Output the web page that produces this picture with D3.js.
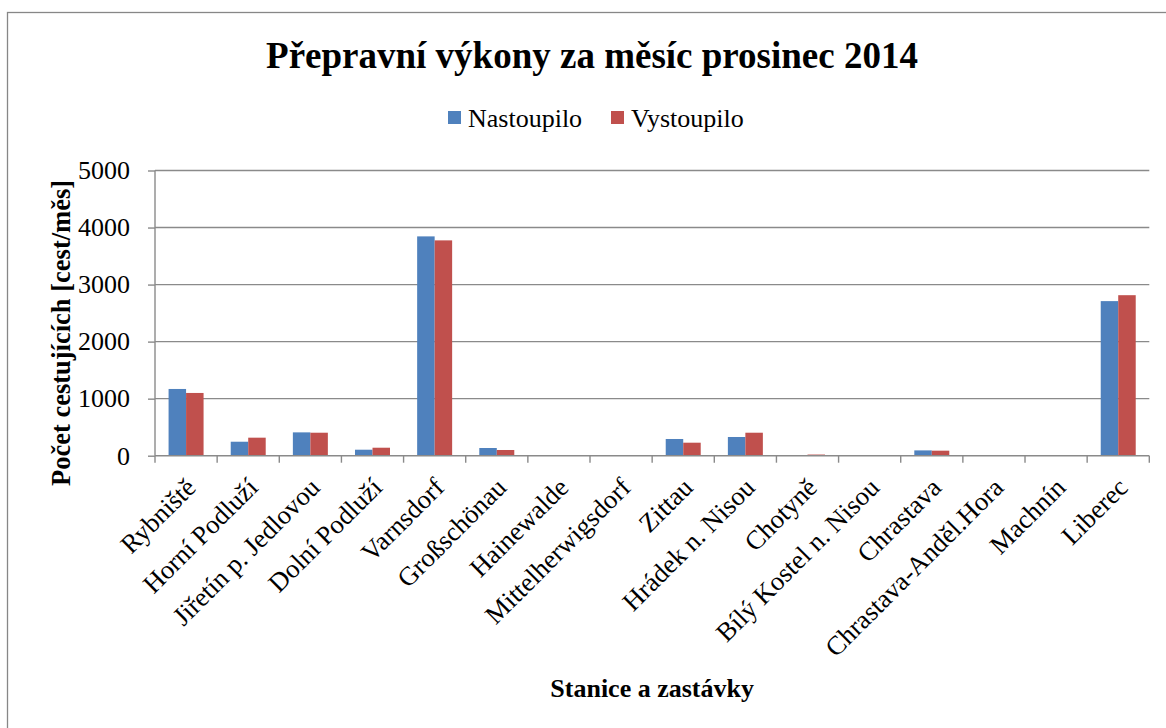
<!DOCTYPE html>
<html>
<head>
<meta charset="utf-8">
<script src="https://cdn.jsdelivr.net/npm/d3@7"></script>
<style>
  body { margin: 0; background: #fff; }
  text { font-family: "Liberation Serif", "Times New Roman", serif; }
</style>
</head>
<body>
<svg id="chart" width="1166" height="728"></svg>
<script>
var stations = ["Rybniště", "Horní Podluží", "Jiřetín p. Jedlovou", "Dolní Podluží", "Varnsdorf",
  "Großschönau", "Hainewalde", "Mittelherwigsdorf", "Zittau", "Hrádek n. Nisou", "Chotyně",
  "Bílý Kostel n. Nisou", "Chrastava", "Chrastava-Anděl.Hora", "Machnín", "Liberec"];
var nastoupilo = [1170, 245, 409, 105, 3845, 135, 3, 3, 293, 328, 5, 4, 93, 2, 2, 2710];
var vystoupilo = [1100, 316, 403, 140, 3775, 100, 3, 12, 228, 403, 20, 4, 88, 2, 2, 2814];
var seriesNames = ["Nastoupilo", "Vystoupilo"];
var seriesColors = ["#4F81BD", "#C0504D"];
var yTicks = [0, 1000, 2000, 3000, 4000, 5000];

var svg = d3.select("#chart");
var plotLeft = 155, plotRight = 1149.3, plotTop = 170.5, plotBottom = 455.7;

// outer frame
svg.append("rect")
  .attr("x", 7.5).attr("y", 12.5)
  .attr("width", 1170).attr("height", 730)
  .attr("fill", "none").attr("stroke", "#878787").attr("stroke-width", 1.3);

var x0 = d3.scaleBand().domain(stations).range([plotLeft, plotRight])
  .paddingInner(0.437).paddingOuter(0.2185);
var x1 = d3.scaleBand().domain(seriesNames).range([0, x0.bandwidth()]);
var y = d3.scaleLinear().domain([0, 5000]).range([plotBottom, plotTop]);

// gridlines
svg.append("g").selectAll("line").data(yTicks.slice(1)).join("line")
  .attr("x1", plotLeft).attr("x2", plotRight)
  .attr("y1", function(d) { return y(d); }).attr("y2", function(d) { return y(d); })
  .attr("stroke", "#8a8a8a").attr("stroke-width", 1.4);

// y axis
var yAxis = svg.append("g").attr("transform", "translate(" + plotLeft + ",0)")
  .call(d3.axisLeft(y).tickValues(yTicks).tickSize(7).tickPadding(18).tickFormat(d3.format("d")));
yAxis.selectAll("path, line").attr("stroke", "#8a8a8a").attr("stroke-width", 1.4);
yAxis.select(".domain").attr("d", "M0," + plotTop + "V" + plotBottom);
yAxis.selectAll("text").attr("font-family", "Liberation Serif").attr("font-size", 26).attr("fill", "#000");

// bars
var groups = svg.append("g").selectAll("g").data(stations).join("g")
  .attr("transform", function(d) { return "translate(" + x0(d) + ",0)"; });
groups.selectAll("rect").data(function(d, i) {
    return [{ s: seriesNames[0], v: nastoupilo[i] }, { s: seriesNames[1], v: vystoupilo[i] }];
  }).join("rect")
  .attr("x", function(d) { return x1(d.s); })
  .attr("width", x1.bandwidth())
  .attr("y", function(d) { return y(d.v); })
  .attr("height", function(d) { return y(0) - y(d.v); })
  .attr("fill", function(d, i) { return seriesColors[i]; });

// x axis line and ticks between categories
var xg = svg.append("g");
xg.append("line").attr("x1", plotLeft).attr("x2", plotRight).attr("y1", plotBottom).attr("y2", plotBottom)
  .attr("stroke", "#8a8a8a").attr("stroke-width", 1.4);
xg.selectAll(".tk").data(d3.range(stations.length + 1)).join("line")
  .attr("x1", function(i) { return plotLeft + i * x0.step(); })
  .attr("x2", function(i) { return plotLeft + i * x0.step(); })
  .attr("y1", plotBottom).attr("y2", plotBottom + 7)
  .attr("stroke", "#8a8a8a").attr("stroke-width", 1.4);

xg.selectAll("text").data(stations).join("text")
  .attr("transform", function(d) {
    return "translate(" + (x0(d) + x0.bandwidth() / 2 - 2) + ",476) rotate(-45)";
  })
  .attr("text-anchor", "end").attr("dy", "0.7em")
  .attr("font-size", 26.5).text(function(d) { return d; });

// title
svg.append("text").attr("x", 592).attr("y", 68).attr("text-anchor", "middle")
  .attr("font-size", 37).attr("font-weight", "bold").text("Přepravní výkony za měsíc prosinec 2014");

// legend
var legendX = [448, 611];
var leg = svg.append("g").selectAll("g").data(seriesNames).join("g")
  .attr("transform", function(d, i) { return "translate(" + legendX[i] + ",111)"; });
leg.append("rect").attr("width", 13).attr("height", 13)
  .attr("fill", function(d, i) { return seriesColors[i]; });
leg.append("text").attr("x", 20).attr("y", 16).attr("font-size", 26).text(function(d) { return d; });

// axis titles
svg.append("text").attr("transform", "translate(70,333) rotate(-90)")
  .attr("text-anchor", "middle").attr("font-size", 26.5).attr("font-weight", "bold")
  .text("Počet cestujících [cest/měs]");
svg.append("text").attr("x", (plotLeft + plotRight) / 2).attr("y", 697)
  .attr("text-anchor", "middle").attr("font-size", 26).attr("font-weight", "bold")
  .text("Stanice a zastávky");
</script>
</body>
</html>
